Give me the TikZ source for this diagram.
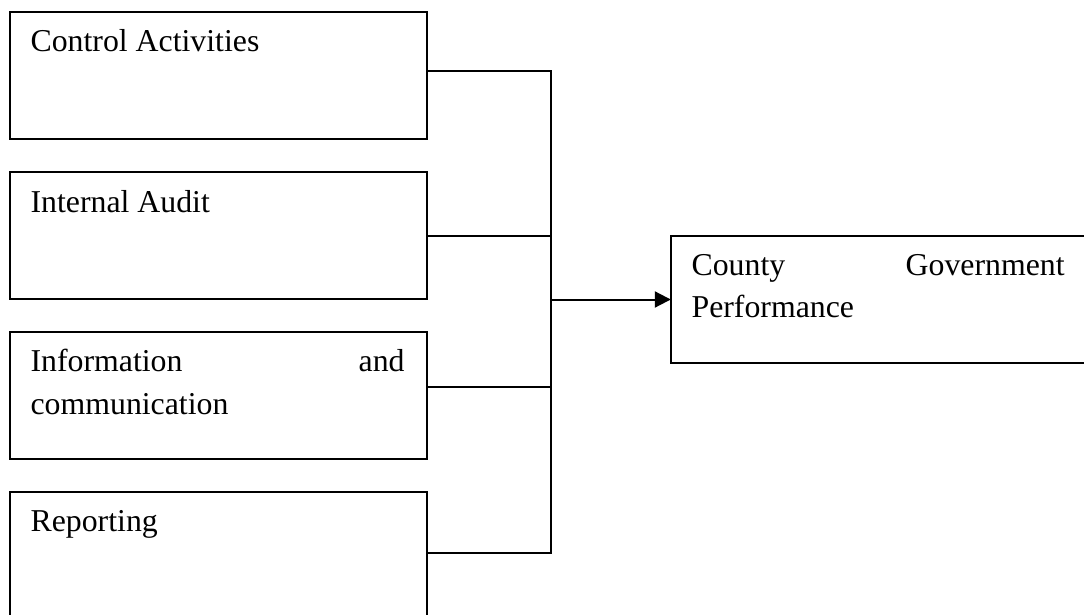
\documentclass[tikz,border=0pt]{standalone}
\usepackage{fontspec}
\setmainfont{Liberation Serif}
\usetikzlibrary{arrows.meta}
\begin{document}
\begin{tikzpicture}[x=1pt,y=-1pt,
  box/.style={draw=black, line width=1.8pt, rectangle, inner sep=0pt, outer sep=0pt, anchor=north west, minimum width=417pt},
  lbl/.style={inner sep=0pt, outer sep=0pt, font=\fontsize{31.8}{36}\selectfont},
  conn/.style={draw=black, line width=2pt}
]
\clip (0,0) rectangle (1084,615);
\fill[white] (0,0) rectangle (1084,615);
% left boxes
\node[box, minimum height=127.3pt] (b1) at (10,11.7) {};
\node[box, minimum height=127pt] (b2) at (10,172) {};
\node[box, minimum height=127.3pt] (b3) at (10,331.7) {};
\node[box, minimum height=140pt] (b4) at (10,491.7) {};
% right box
\node[box, minimum width=440pt, minimum height=127.6pt] (rb) at (670.8,235.7) {};
% labels
\node[lbl, anchor=base west] (t1) at ([xshift=20.6pt, yshift=-40pt]b1.north west) {Control Activities};
\node[lbl, anchor=base west] (t2) at ([xshift=20.6pt, yshift=-40.7pt]b2.north west) {Internal Audit};
\node[lbl, anchor=base west] (t3) at ([xshift=20.6pt, yshift=-40pt]b3.north west) {\makebox[374pt][s]{Information\hfill and}};
\node[lbl, anchor=base west] (t3b) at ([yshift=-42.5pt]t3.base west) {communication};
\node[lbl, anchor=base west] (t4) at ([xshift=20.6pt, yshift=-40pt]b4.north west) {Reporting};
\node[lbl, anchor=base west] (t5) at ([xshift=20.8pt, yshift=-39.3pt]rb.north west) {\makebox[373pt][s]{County\hfill Government}};
\node[lbl, anchor=base west] (t5b) at ([yshift=-42.5pt]t5.base west) {Performance};
% junction coordinates
\coordinate (j1) at (551,71);
\coordinate (j2) at (551,236);
\coordinate (j3) at (551,387);
\coordinate (j4) at (551,553);
\coordinate (jm) at (551,299.5);
% connectors
\draw[conn] (b1.east |- j1) -- (j1) -- (j4) -- (b4.east |- j4);
\draw[conn] (b2.east |- j2) -- (j2);
\draw[conn] (b3.east |- j3) -- (j3);
\draw[conn, -{Triangle[length=16pt,width=16pt]}] (jm) -- (rb.west);
\end{tikzpicture}
\end{document}
